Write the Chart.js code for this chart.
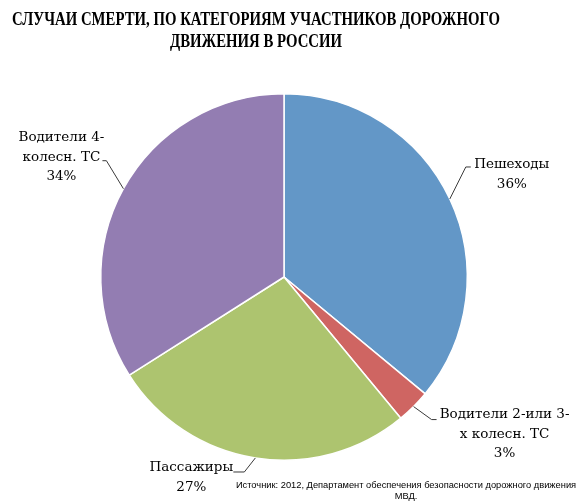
<!DOCTYPE html>
<html>
<head>
<meta charset="utf-8">
<script src="https://cdn.jsdelivr.net/npm/chart.js@4"></script>
<style>
  html, body { margin: 0; padding: 0; background: #fff; }
  #wrap { width: 580px; height: 501px; }
</style>
</head>
<body>
<div id="wrap"><canvas id="pieChart"></canvas></div>
<script>
// Data
const categories = [
  ['Пешеходы'],
  ['Водители 2-или 3-', 'х колесн. ТС'],
  ['Пассажиры'],
  ['Водители 4-', 'колесн. ТС']
];
const shares = [36, 3, 27, 34];
const sliceColors = ['#6397c7', '#cf6562', '#adc46f', '#937db2'];
const titleLines = ['СЛУЧАИ СМЕРТИ, ПО КАТЕГОРИЯМ УЧАСТНИКОВ ДОРОЖНОГО', 'ДВИЖЕНИЯ В РОССИИ'];
const sourceLines = ['Источник: 2012, Департамент обеспечения безопасности дорожного движения', 'МВД.'];

// label placement: elbow offset from slice edge, short horizontal run, text centre offset from elbow
const labelLayout = [
  { elbow: [16, -32], run: 5, text: [46, -2] },
  { elbow: [18, 13], run: 5, text: [73, -5] },
  { elbow: [-11, 14], run: -11, text: [-53, -4] },
  { elbow: [-17, -28], run: -4, text: [-45, -23] }
];

const chartTitle = {
  id: 'chartTitle',
  afterDraw(chart) {
    const ctx = chart.ctx;
    ctx.save();
    ctx.fillStyle = '#000';
    ctx.font = 'bold 19px "Liberation Serif"';
    ctx.textBaseline = 'middle';
    ctx.textAlign = 'center';
    // squeeze to the width of the first line in the original
    const sx = 488 / ctx.measureText(titleLines[0]).width;
    ctx.translate(256, 0);
    ctx.scale(sx, 1);
    ctx.fillText(titleLines[0], 0, 20);
    ctx.fillText(titleLines[1], 0, 42);
    ctx.restore();
  }
};

const pieLabels = {
  id: 'pieLabels',
  afterDatasetsDraw(chart) {
    const ctx = chart.ctx;
    const meta = chart.getDatasetMeta(0);
    const total = shares.reduce((a, b) => a + b, 0);
    ctx.save();
    meta.data.forEach((arc, i) => {
      const mid = (arc.startAngle + arc.endAngle) / 2;
      const ex = arc.x + Math.cos(mid) * arc.outerRadius;
      const ey = arc.y + Math.sin(mid) * arc.outerRadius;
      const lay = labelLayout[i];
      const bx = ex + lay.elbow[0];
      const by = ey + lay.elbow[1];
      ctx.strokeStyle = '#3a3a3a';
      ctx.lineWidth = 1;
      ctx.beginPath();
      ctx.moveTo(ex, ey);
      ctx.lineTo(bx, by);
      ctx.lineTo(bx + lay.run, by);
      ctx.stroke();

      const lines = categories[i].concat([Math.round(shares[i] / total * 100) + '%']);
      ctx.fillStyle = '#000';
      ctx.font = '13.5px "DejaVu Serif"';
      ctx.textAlign = 'center';
      ctx.textBaseline = 'middle';
      const tx = bx + lay.text[0];
      let ty = by + lay.text[1];
      lines.forEach(line => {
        ctx.fillText(line, tx, ty);
        ty += 19.5;
      });
    });
    ctx.restore();
  }
};

const sourceNote = {
  id: 'sourceNote',
  afterDraw(chart) {
    const ctx = chart.ctx;
    ctx.save();
    ctx.fillStyle = '#000';
    ctx.font = '9.3px "Liberation Sans"';
    ctx.textAlign = 'center';
    ctx.textBaseline = 'middle';
    ctx.fillText(sourceLines[0], 406, 485);
    ctx.fillText(sourceLines[1], 406, 496);
    ctx.restore();
  }
};

const ctx = document.getElementById('pieChart').getContext('2d');
const pieChart = new Chart(ctx, {
  type: 'pie',
  data: {
    labels: categories,
    datasets: [{
      data: shares,
      backgroundColor: sliceColors,
      borderColor: '#ffffff',
      borderWidth: 1.5
    }]
  },
  options: {
    responsive: true,
    maintainAspectRatio: false,
    animation: false,
    layout: { padding: { top: 93, bottom: 40, left: 0, right: 12 } },
    plugins: {
      legend: { display: false },
      tooltip: { enabled: false },
      title: { display: false }
    }
  },
  plugins: [pieLabels, sourceNote, chartTitle]
});
</script>
</body>
</html>
